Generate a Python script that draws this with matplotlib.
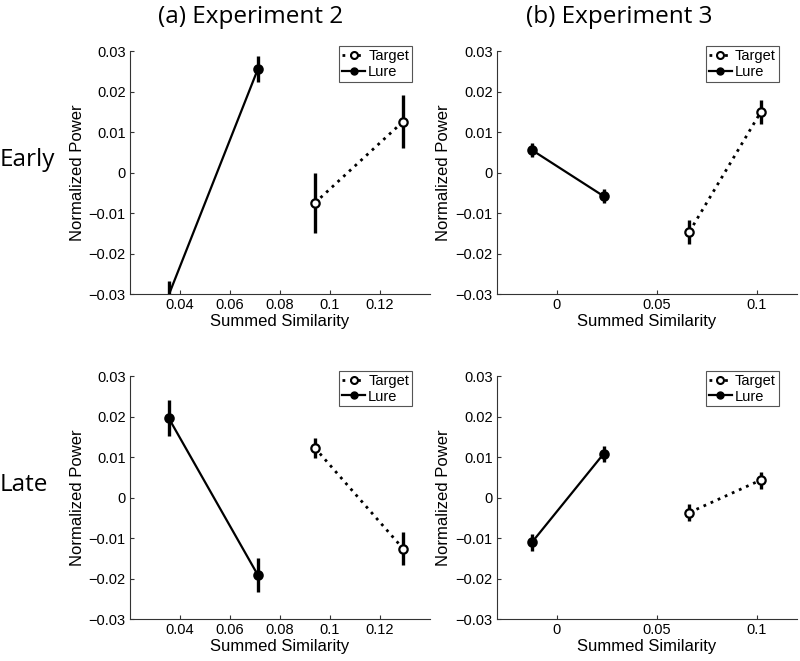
import numpy as np
import matplotlib
matplotlib.use('Agg')
from matplotlib import pyplot as plt
from matplotlib.ticker import FuncFormatter
from matplotlib.lines import Line2D

# data
exp2_target_x = [0.0939, 0.1292]
exp2_lure_x = [0.0355, 0.0711]
exp3_target_x = [0.0663, 0.1019]
exp3_lure_x = [-0.0125, 0.0234]

exp2_early_target = [-0.0075, 0.0126]
exp2_early_target_err = [0.0073, 0.0065]
exp2_early_lure = [-0.0302, 0.0255]
exp2_early_lure_err = [0.0035, 0.0032]

exp3_early_target = [-0.0146, 0.0149]
exp3_early_target_err = [0.0029, 0.0030]
exp3_early_lure = [0.0056, -0.0058]
exp3_early_lure_err = [0.0018, 0.0017]

exp2_late_target = [0.0123, -0.0126]
exp2_late_target_err = [0.0025, 0.0041]
exp2_late_lure = [0.0196, -0.0191]
exp2_late_lure_err = [0.0044, 0.0042]

exp3_late_target = [-0.0037, 0.0043]
exp3_late_target_err = [0.0022, 0.0021]
exp3_late_lure = [-0.0111, 0.0108]
exp3_late_lure_err = [0.0020, 0.0020]

exp2_xticks = [0.04, 0.06, 0.08, 0.1, 0.12]
exp3_xticks = [0, 0.05, 0.1]
yticks = [-0.03, -0.02, -0.01, 0, 0.01, 0.02, 0.03]

plt.rcParams['font.family'] = ['Liberation Sans', 'DejaVu Sans']

fig = plt.figure(figsize=(8, 6.61), dpi=100)

fmt = FuncFormatter(lambda v, p: ('%g' % round(v, 4)).replace('-', '\u2212'))
YLIM = (-0.03, 0.03)


def draw_series(ax, x, y, err, filled, ls):
    x = np.array(x)
    y = np.array(y)
    ax.plot(x, y, color='black', lw=1.6 if filled else 2.0, ls=ls, zorder=2)
    ax.errorbar(x, y, yerr=err, fmt='none', ecolor='black', elinewidth=2.4, capsize=0, zorder=3)
    # markers outside the y range are not drawn (as in the original)
    ok = (y >= YLIM[0]) & (y <= YLIM[1])
    ax.plot(x[ok], y[ok], ls='none', marker='o', ms=6.0, mec='black', mew=1.6,
            mfc='black' if filled else 'white', zorder=4)


def panel(rect, tx, ty, terr, lx, ly, lerr, xlim, xticks):
    ax = fig.add_axes(rect)
    draw_series(ax, lx, ly, lerr, True, '-')
    draw_series(ax, tx, ty, terr, False, (0, (1, 1.8)))
    ax.set_xlim(*xlim)
    ax.set_ylim(*YLIM)
    ax.set_xticks(xticks)
    ax.set_yticks(yticks)
    ax.xaxis.set_major_formatter(fmt)
    ax.yaxis.set_major_formatter(fmt)
    ax.spines['top'].set_visible(False)
    ax.spines['right'].set_visible(False)
    for s in ['left', 'bottom']:
        ax.spines[s].set_color('#333333')
        ax.spines[s].set_linewidth(0.8)
    ax.tick_params(direction='in', length=3, width=0.8, labelsize=10.5, color='#333333', pad=3)
    ax.set_xlabel('Summed Similarity', fontsize=12, labelpad=1)
    ax.set_ylabel('Normalized Power', fontsize=12, labelpad=3)
    handles = [
        Line2D([], [], color='black', ls=(0, (1, 1.8)), lw=2.0, marker='o', ms=5,
               mfc='white', mec='black', mew=1.5),
        Line2D([], [], color='black', ls='-', lw=1.6, marker='o', ms=5,
               mfc='black', mec='black'),
    ]
    leg = ax.legend(handles, ['Target', 'Lure'], loc='upper right', bbox_to_anchor=(0.94, 1.02),
                    fontsize=10.5, handlelength=1.6, handletextpad=0.2, borderpad=0.2,
                    labelspacing=0.1, borderaxespad=0.0, fancybox=False, framealpha=1)
    leg.get_frame().set_edgecolor('#555555')
    leg.get_frame().set_linewidth(0.8)
    return ax


left_x, right_x, w = 0.1625, 0.621, 0.375
top_y, bot_y, h = 0.555, 0.0635, 0.3676

panel([left_x, top_y, w, h], exp2_target_x, exp2_early_target, exp2_early_target_err,
      exp2_lure_x, exp2_early_lure, exp2_early_lure_err, (0.02, 0.14), exp2_xticks)
panel([right_x, top_y, w, h], exp3_target_x, exp3_early_target, exp3_early_target_err,
      exp3_lure_x, exp3_early_lure, exp3_early_lure_err, (-0.03, 0.12), exp3_xticks)
panel([left_x, bot_y, w, h], exp2_target_x, exp2_late_target, exp2_late_target_err,
      exp2_lure_x, exp2_late_lure, exp2_late_lure_err, (0.02, 0.14), exp2_xticks)
panel([right_x, bot_y, w, h], exp3_target_x, exp3_late_target, exp3_late_target_err,
      exp3_lure_x, exp3_late_lure, exp3_late_lure_err, (-0.03, 0.12), exp3_xticks)

big = dict(fontsize=17.5, family=['Open Sans', 'DejaVu Sans'])
fig.text(251 / 800, 1 - 17 / 661, '(a) Experiment 2', ha='center', va='center', **big)
fig.text(619 / 800, 1 - 17 / 661, '(b) Experiment 3', ha='center', va='center', **big)
fig.text(0.0, 1 - 160 / 661, 'Early', ha='left', va='center', **big)
fig.text(0.0, 1 - 485 / 661, 'Late', ha='left', va='center', **big)

fig.savefig('out.png', dpi=100)
